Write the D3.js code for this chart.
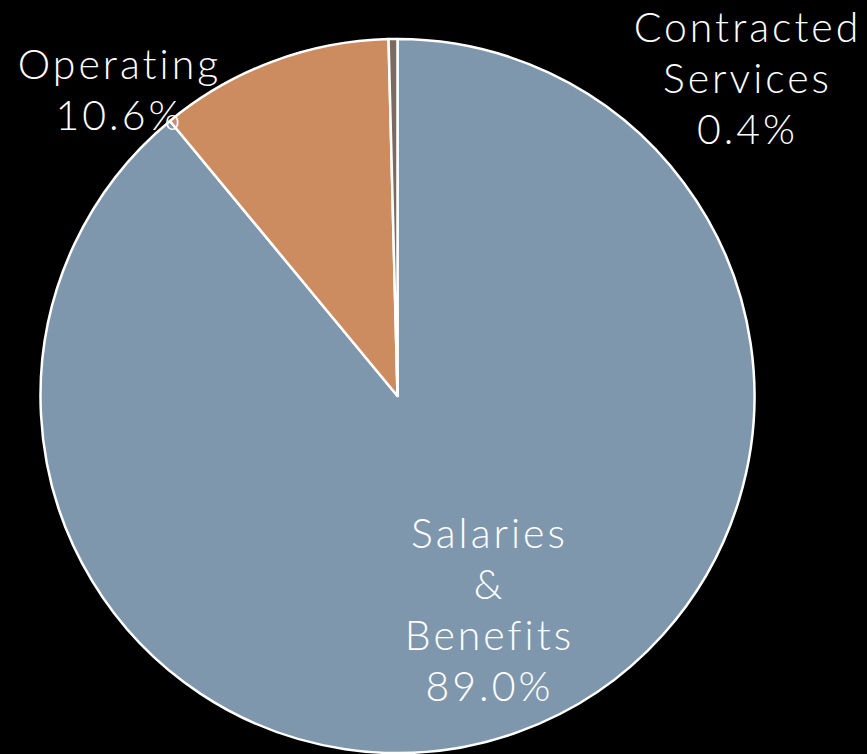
<!DOCTYPE html>
<html>
<head>
<meta charset="utf-8">
<script src="https://cdn.jsdelivr.net/npm/d3@7"></script>
<style>
  html, body { margin: 0; padding: 0; background: #000; }
  svg { display: block; }
</style>
</head>
<body>
<div id="chart"></div>
<script>
// budget categories and their share (%)
var categories = ["Salaries & Benefits", "Operating", "Contracted Services"];
var shares = [89.0, 10.6, 0.4];
var labelLines = [["Salaries", "&", "Benefits", "89.0%"], ["Operating", "10.6%"], ["Contracted", "Services", "0.4%"]];
var sliceColors = ["#7f97ad", "#cc8c60", "#7b6a61"];

// where each label block sits, relative to the pie centre (first baseline)
var labelSpots = [[92, 152], [-278, -317], [350, -354]];

var width = 867, height = 754;
var cx = 397.5, cy = 396, radius = 357;

var svg = d3.select("#chart")
    .append("svg")
    .attr("width", width)
    .attr("height", height);

var g = svg.append("g")
    .attr("transform", "translate(" + cx + "," + cy + ")");

//pie layout, keeps the data order and starts at 12 o'clock
var pie = d3.pie()
    .sort(null)
    .value(function(d){ return d; });

var arc = d3.arc()
    .innerRadius(0)
    .outerRadius(radius);

g.selectAll("path.slice")
    .data(pie(shares))
    .enter()
    .append("path")
    .attr("class", "slice")
    .attr("d", arc)
    .attr("fill", function(d, i){ return sliceColors[i]; })
    .attr("stroke", "#ffffff")
    .attr("stroke-width", 2.5)
    .attr("stroke-linejoin", "round");

//labels, one text per category with a tspan per line
var labels = g.selectAll("text.label")
    .data(categories)
    .enter()
    .append("text")
    .attr("class", "label")
    .attr("text-anchor", "middle")
    .attr("fill", "#ffffff")
    .style("font-family", "Lato, 'Open Sans', sans-serif")
    .style("font-weight", 300)
    .style("font-size", "41px")
    .style("letter-spacing", "3px");

labels.each(function(d, i){
    var t = d3.select(this);
    labelLines[i].forEach(function(line, j){
        t.append("tspan")
            .attr("x", labelSpots[i][0])
            .attr("y", labelSpots[i][1] + j * 51)
            .text(line);
    });
});
</script>
</body>
</html>
